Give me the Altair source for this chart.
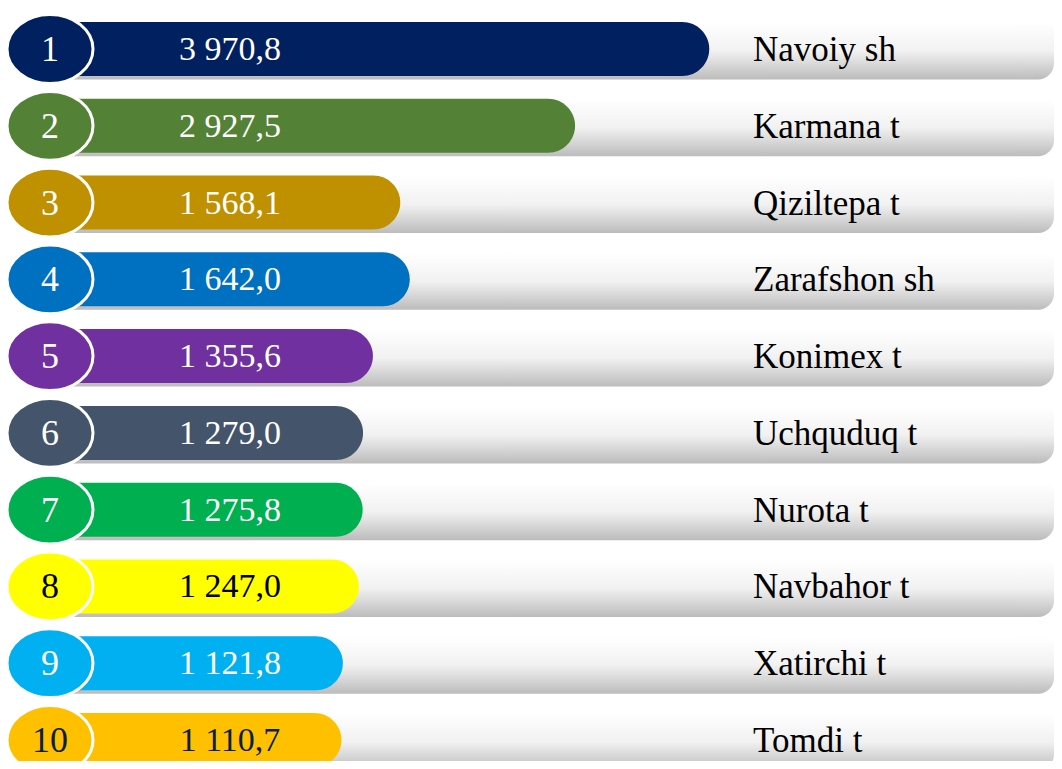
import altair as alt
import pandas as pd

# ---- data ----
ranks = [1, 2, 3, 4, 5, 6, 7, 8, 9, 10]
names = ["Navoiy sh", "Karmana t", "Qiziltepa t", "Zarafshon sh", "Konimex t",
         "Uchquduq t", "Nurota t", "Navbahor t", "Xatirchi t", "Tomdi t"]
values = [3970.8, 2927.5, 1568.1, 1642.0, 1355.6, 1279.0, 1275.8, 1247.0, 1121.8, 1110.7]
value_labels = ["3 970,8", "2 927,5", "1 568,1", "1 642,0", "1 355,6",
                "1 279,0", "1 275,8", "1 247,0", "1 121,8", "1 110,7"]

# ---- styles ----
bar_colors = ["#002060", "#538135", "#BF9000", "#0070C0", "#7030A0",
              "#44546A", "#00B050", "#FFFF00", "#00B0F0", "#FFC000"]
text_colors = ["#FFFFFF", "#FFFFFF", "#FFFFFF", "#FFFFFF", "#FFFFFF",
               "#FFFFFF", "#FFFFFF", "#000000", "#FFFFFF", "#0B1F4F"]

df = pd.DataFrame({"rank": ranks, "name": names, "value": values, "label": value_labels})

FONT = "Liberation Serif"
W, H = 1046, 753

y_enc = alt.Y("rank:O", axis=None,
              scale=alt.Scale(type="point", domain=ranks, range=[41, 732], padding=0))
color_enc = alt.Color("name:N", scale=alt.Scale(domain=names, range=bar_colors), legend=None)
tcolor_enc = alt.Color("name:N", scale=alt.Scale(domain=names, range=text_colors), legend=None)
BAR_BASE = -1000
x_scale = alt.Scale(domain=[BAR_BASE, 4000], range=[62, 705], zero=False)

base = alt.Chart(df)

grey = base.mark_bar(
    size=57, yOffset=2,
    cornerRadiusBottomRight=16, cornerRadiusTopRight=6,
    color=alt.Gradient(
        gradient="linear",
        stops=[alt.GradientStop(color="#ffffff", offset=0),
               alt.GradientStop(color="#f1f1f1", offset=0.5),
               alt.GradientStop(color="#bcbcbc", offset=1)],
        x1=0, x2=0, y1=0, y2=1),
).encode(y=y_enc, x=alt.value(62), x2=alt.value(W))

bars = base.mark_bar(
    size=54, cornerRadiusTopRight=27, cornerRadiusBottomRight=27,
).encode(
    y=y_enc,
    x=alt.X("value:Q", scale=x_scale, axis=None, stack=None),
    x2=alt.datum(BAR_BASE),
    color=color_enc,
)

vals = base.mark_text(
    font=FONT, fontSize=34, align="center", baseline="middle", dy=1,
).encode(y=y_enc, x=alt.value(222), text="label:N", color=tcolor_enc)

ellipse = "M-1,0A1,0.8,0,1,1,1,0A1,0.8,0,1,1,-1,0Z"
circles = base.mark_point(
    shape=ellipse, size=86 * 86, filled=True, opacity=1,
    stroke="white", strokeWidth=3,
).encode(y=y_enc, x=alt.value(42),
         fill=alt.Fill("name:N", scale=alt.Scale(domain=names, range=bar_colors), legend=None))

rank_txt = base.mark_text(
    font=FONT, fontSize=36, align="center", baseline="middle", dy=1,
).encode(y=y_enc, x=alt.value(42), text="rank:N", color=tcolor_enc)

name_txt = base.mark_text(
    font=FONT, fontSize=35, align="left", baseline="middle", color="#000000", dy=1,
).encode(y=y_enc, x=alt.value(745), text="name:N")

chart = alt.layer(grey, bars, vals, circles, rank_txt, name_txt).resolve_scale(
    color="independent"
).properties(
    width=W, height=H, padding=0, autosize=alt.AutoSizeParams(type="none")
).configure_view(stroke=None)

chart.save("out.html", embed_options={"renderer": "svg", "actions": False})
